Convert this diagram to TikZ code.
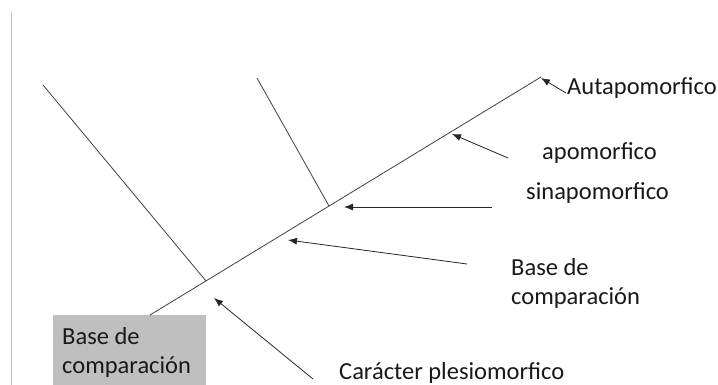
\documentclass[tikz,border=0pt]{standalone}
\usepackage{fontspec}
\setmainfont{Carlito}
\usetikzlibrary{arrows.meta}
\definecolor{lin}{HTML}{404040}
\definecolor{boxgray}{HTML}{BFBFBF}
\definecolor{edge}{HTML}{B4BCCB}
\tikzset{
  treeline/.style={draw=lin, line width=0.8pt},
  pointer/.style={draw=black!85, line width=0.8pt, -{Latex[length=9pt,width=7pt]}},
  lbl/.style={anchor=base west, inner sep=0pt, font=\fontsize{24.5}{28.5}\selectfont, text=black!90, align=left},
}
\begin{document}
\begin{tikzpicture}[x=1pt,y=-1pt]
\useasboundingbox (0,0) rectangle (718,385);
% left margin line
\draw[edge, line width=1pt] (11,12) -- (11,385);
% gray box
\fill[boxgray] (53,315) rectangle (206,385);
\node[lbl] (boxtxt) at (62,373) {Base de\\comparación};
% tree
\coordinate (root) at (150,315);
\coordinate (tip) at (541,77);
\coordinate (n1) at (206,281);
\coordinate (n2) at (329,206);
\coordinate (l1) at (43,85);
\coordinate (l2) at (257,78);
\draw[treeline] (root) -- (tip);
\draw[treeline] (l1) -- (n1);
\draw[treeline] (l2) -- (n2);
% labels
\node[lbl] (aut) at (567,95) {Autapomorfico};
\node[lbl] (apo) at (542,160) {apomorfico};
\node[lbl] (sin) at (526,200) {sinapomorfico};
\node[lbl] (base) at (511,304) {Base de\\comparación};
\node[lbl] (ple) at (339,379) {Carácter plesiomorfico};
% arrow ends
\coordinate (t1) at (566,93);  \coordinate (h1) at (541,78);
\coordinate (t2) at (508,158); \coordinate (h2) at (452,134);
\coordinate (t3) at (492,207); \coordinate (h3) at (344,207);
\coordinate (t4) at (467,264); \coordinate (h4) at (288,240);
\coordinate (t5) at (313,379); \coordinate (h5) at (214,298);
\draw[pointer] (t1) -- (h1);
\draw[pointer] (t2) -- (h2);
\draw[pointer] (t3) -- (h3);
\draw[pointer] (t4) -- (h4);
\draw[pointer] (t5) -- (h5);
\end{tikzpicture}
\end{document}
